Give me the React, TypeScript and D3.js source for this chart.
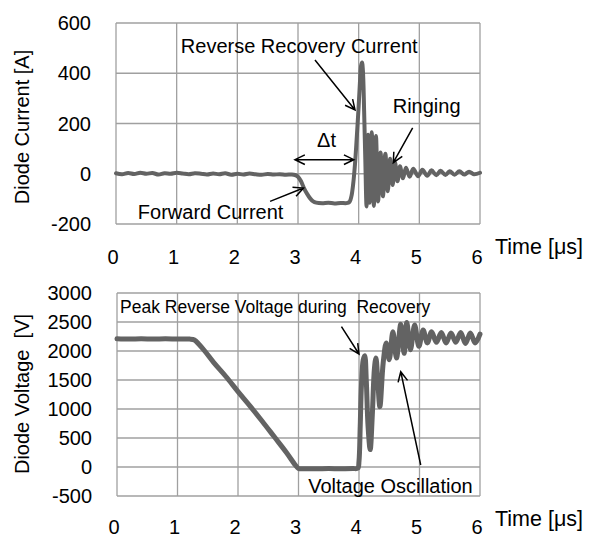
import React from "react";
import * as d3 from "d3";

// ---------- data ----------
const timeTicks = [0, 1, 2, 3, 4, 5, 6];
const currentTicks = [-200, 0, 200, 400, 600];
const voltageTicks = [-500, 0, 500, 1000, 1500, 2000, 2500, 3000];

// diode current [A] vs time [us]
const currentTrace: [number, number][] = [
  [0, 2], [0.1, -2], [0.2, 3], [0.3, -1], [0.4, 4], [0.5, 0], [0.6, 3], [0.7, -3],
  [0.8, 2], [0.9, 0], [1.0, 4], [1.1, 1], [1.2, -2], [1.3, 2], [1.4, 0], [1.5, -3],
  [1.6, 1], [1.7, -2], [1.8, 2], [1.9, -4], [2.0, 0], [2.1, -3], [2.2, 1], [2.3, -2],
  [2.4, -4], [2.5, -1], [2.6, -3], [2.7, -2], [2.8, -4], [2.9, -3], [2.95, -5],
  [3.0, -12], [3.05, -30], [3.1, -58], [3.15, -80], [3.2, -98], [3.25, -110],
  [3.3, -115], [3.4, -117], [3.5, -115], [3.6, -118], [3.7, -116], [3.8, -117],
  [3.85, -112], [3.88, -90], [3.91, -40], [3.94, 40], [3.97, 150], [4.0, 270],
  [4.02, 360], [4.04, 430], [4.055, 443], [4.07, 410], [4.09, 250], [4.11, 50],
  [4.13, -130], [4.155, 155], [4.18, -115], [4.215, 165], [4.25, -128], [4.285, 150],
  [4.32, -110], [4.36, 85], [4.4, -90], [4.44, 80], [4.48, -70], [4.52, 60],
  [4.56, -45], [4.6, 45], [4.64, -30], [4.68, 30], [4.73, -18], [4.78, 24],
  [4.84, -12], [4.9, 20], [4.98, -10], [5.05, 16], [5.13, -8], [5.2, 14], [5.28, -6],
  [5.35, 12], [5.43, -5], [5.5, 10], [5.58, -4], [5.66, 10], [5.74, -3], [5.82, 8],
  [5.9, -2], [6.0, 4],
];

// diode voltage [V] vs time [us]
const voltageTrace: [number, number][] = [
  [0, 2210], [0.2, 2205], [0.4, 2210], [0.6, 2205], [0.8, 2210], [1.0, 2205],
  [1.2, 2205], [1.28, 2190], [1.35, 2120], [1.45, 2000], [1.6, 1800], [1.8, 1560],
  [2.0, 1300], [2.2, 1050], [2.4, 790], [2.6, 520], [2.8, 250], [2.95, 30],
  [3.0, -25], [3.1, -30], [3.3, -30], [3.5, -28], [3.7, -30], [3.9, -27], [3.98, -20],
  [4.0, 100], [4.02, 700], [4.04, 1400], [4.07, 1850], [4.095, 1920], [4.12, 1500],
  [4.15, 700], [4.185, 300], [4.22, 900], [4.255, 1700], [4.28, 1880], [4.31, 1500],
  [4.345, 1040], [4.4, 1800], [4.45, 2140], [4.5, 1850], [4.56, 2330], [4.62, 1880],
  [4.69, 2460], [4.745, 1960], [4.79, 2490], [4.85, 2020], [4.92, 2450], [4.99, 2080],
  [5.06, 2360], [5.13, 2140], [5.2, 2330], [5.28, 2150], [5.36, 2320], [5.44, 2140],
  [5.52, 2310], [5.6, 2150], [5.68, 2320], [5.76, 2130], [5.84, 2310], [5.92, 2140],
  [6.0, 2290],
];

// ---------- styling ----------
const FONT = "'Liberation Sans', Arial, sans-serif";
const GRID = "#a0a0a0";
const TRACE = "#636363";

type Arrow = { from: [number, number]; to: [number, number]; both?: boolean };

function arrowPath(x1: number, y1: number, x2: number, y2: number, both = false) {
  const len = 11;
  const ang = (26 * Math.PI) / 180;
  const a = Math.atan2(y2 - y1, x2 - x1);
  const head = (x: number, y: number, dir: number) => {
    const p1 = [x - len * Math.cos(dir - ang), y - len * Math.sin(dir - ang)];
    const p2 = [x - len * Math.cos(dir + ang), y - len * Math.sin(dir + ang)];
    return `M${p1[0]},${p1[1]}L${x},${y}L${p2[0]},${p2[1]}`;
  };
  let d = `M${x1},${y1}L${x2},${y2}` + head(x2, y2, a);
  if (both) d += head(x1, y1, a + Math.PI);
  return d;
}

function Panel(props: {
  x0: number; x1: number; yTop: number; yBot: number;
  domain: [number, number]; ticks: number[]; trace: [number, number][];
  strokeW: number; yTitle: string; yTitleY: number; tickLabelY: number; timeLabelY: number;
  arrows: Arrow[];
  texts: { t: number; v: number; s: string; anchor: string; size?: number }[];
}) {
  const x = d3.scaleLinear().domain([0, 6]).range([props.x0, props.x1]);
  const y = d3.scaleLinear().domain(props.domain).range([props.yBot, props.yTop]);
  const line = d3
    .line<[number, number]>()
    .x((d) => x(d[0]))
    .y((d) => y(d[1]))
    .curve(d3.curveCatmullRom.alpha(0.5));
  return (
    <g>
      {props.ticks.map((t) => (
        <line key={"h" + t} x1={props.x0} x2={props.x1} y1={y(t)} y2={y(t)} stroke={GRID} strokeWidth={1.3} />
      ))}
      {timeTicks.map((t) => (
        <line key={"v" + t} x1={x(t)} x2={x(t)} y1={props.yTop} y2={props.yBot} stroke={GRID} strokeWidth={1.3} />
      ))}
      <path d={line(props.trace) || ""} fill="none" stroke={TRACE} strokeWidth={props.strokeW} strokeLinejoin="round" strokeLinecap="round" />
      {props.ticks.map((t) => (
        <text key={"yl" + t} x={props.x0 - 25} y={y(t)} dy="0.35em" textAnchor="end" fontSize={20} fontFamily={FONT} fill="#000">
          {t}
        </text>
      ))}
      {timeTicks.map((t) => (
        <text key={"xl" + t} x={x(t) - 3} y={props.tickLabelY} dy="0.35em" textAnchor="middle" fontSize={20} fontFamily={FONT} fill="#000">
          {t}
        </text>
      ))}
      <text x={495} y={props.timeLabelY} dy="0.35em" fontSize={21.5} fontFamily={FONT} fill="#000">
        Time [μs]
      </text>
      <text
        transform={`translate(22,${props.yTitleY}) rotate(-90)`}
        dy="0.35em"
        textAnchor="middle"
        fontSize={20}
        fontFamily={FONT}
        fill="#000"
        style={{ whiteSpace: "pre" }}
      >
        {props.yTitle}
      </text>
      {props.arrows.map((a, i) => (
        <path
          key={"a" + i}
          d={arrowPath(x(a.from[0]), y(a.from[1]), x(a.to[0]), y(a.to[1]), a.both)}
          fill="none"
          stroke="#000"
          strokeWidth={1.5}
        />
      ))}
      {props.texts.map((t, i) => (
        <text
          key={"t" + i}
          x={x(t.t)}
          y={y(t.v)}
          dy="0.35em"
          textAnchor={t.anchor as any}
          fontSize={t.size ?? 20}
          fontFamily={FONT}
          fill="#000"
          style={{ whiteSpace: "pre" }}
        >
          {t.s}
        </text>
      ))}
    </g>
  );
}

export default function App() {
  return (
    <svg width={590} height={537} style={{ position: "absolute", left: 0, top: 0, background: "#fff" }}>
      <rect width={590} height={537} fill="#fff" />
      <Panel
        x0={116}
        x1={480}
        yTop={23}
        yBot={224}
        domain={[-200, 600]}
        ticks={currentTicks}
        trace={currentTrace}
        strokeW={4}
        yTitle="Diode Current [A]"
        yTitleY={127}
        tickLabelY={257}
        timeLabelY={246}
        arrows={[
          { from: [3.28, 453], to: [3.94, 254] },
          { from: [4.89, 183], to: [4.57, 44] },
          { from: [2.95, 56], to: [3.92, 56], both: true },
          { from: [2.54, -110], to: [3.09, -57] },
        ]}
        texts={[
          { t: 3.02, v: 509, s: "Reverse Recovery Current", anchor: "middle" },
          { t: 5.12, v: 270, s: "Ringing", anchor: "middle" },
          { t: 3.47, v: 135, s: "Δt", anchor: "middle" },
          { t: 1.56, v: -154, s: "Forward Current", anchor: "middle" },
        ]}
      />
      <Panel
        x0={117}
        x1={480}
        yTop={293}
        yBot={496}
        domain={[-500, 3000]}
        ticks={voltageTicks}
        trace={voltageTrace}
        strokeW={5}
        yTitle="Diode Voltage  [V]"
        yTitleY={394}
        tickLabelY={527}
        timeLabelY={518}
        arrows={[
          { from: [3.71, 2419], to: [4.0, 1948] },
          { from: [5.02, 34], to: [4.69, 1643] },
        ]}
        texts={[
          { t: 0.05, v: 2764, s: "Peak Reverse Voltage during  Recovery", anchor: "start", size: 17.5 },
          { t: 4.52, v: -328, s: "Voltage Oscillation", anchor: "middle" },
        ]}
      />
    </svg>
  );
}
